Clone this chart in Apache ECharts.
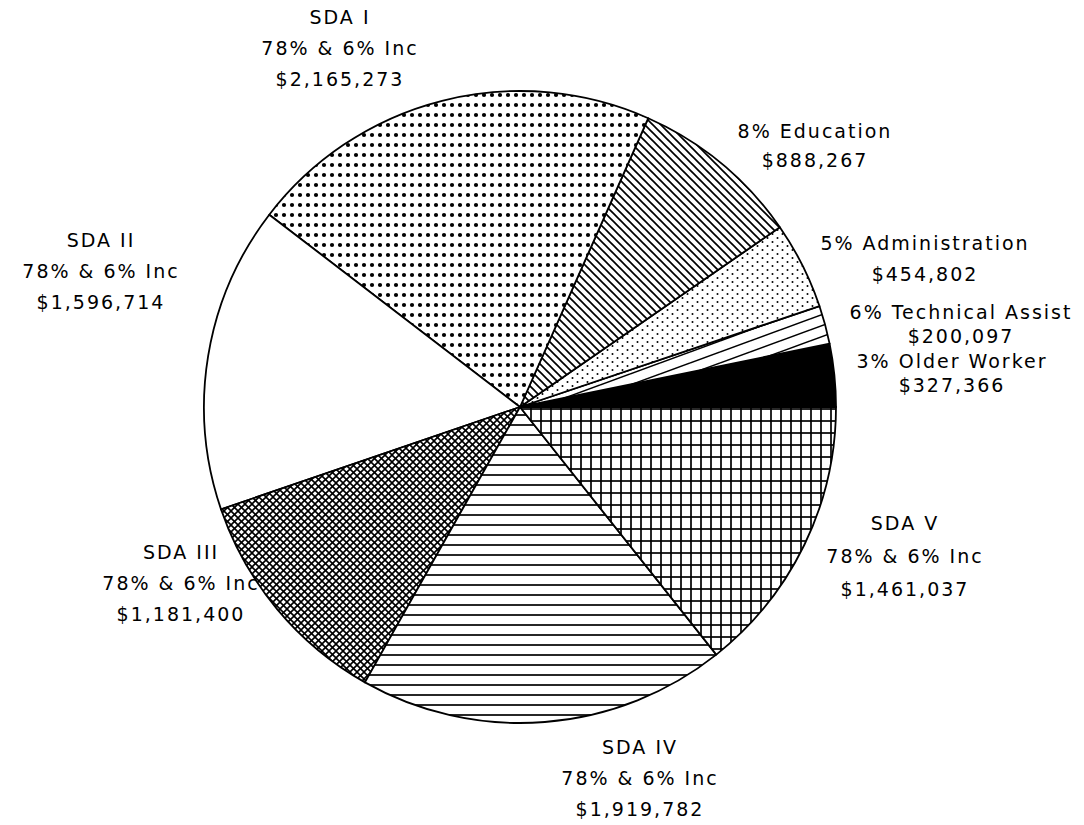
<!DOCTYPE html>
<html>
<head>
<meta charset="utf-8">
<script src="https://cdn.jsdelivr.net/npm/echarts@6/dist/echarts.min.js"></script>
<style>
html, body { margin: 0; padding: 0; background: #ffffff; }
#chart { width: 1084px; height: 825px; }
#chart text { letter-spacing: 2px; }
</style>
</head>
<body>
<div id="chart"></div>
<script>
// ---- data ----
const categories = ['3% Older Worker', '6% Technical Assist', '5% Administration', '8% Education',
                    'SDA I', 'SDA II', 'SDA III', 'SDA IV', 'SDA V'];
const subLabels = ['', '', '', '', '78% & 6% Inc', '78% & 6% Inc', '78% & 6% Inc', '78% & 6% Inc', '78% & 6% Inc'];
const amounts = [327366, 200097, 454802, 888267, 2165273, 1596714, 1181400, 1919782, 1461037];

// ---- label placement (style, not data) ----
const labelPos = [[952, 373], [961, 324], [925, 258], [815, 145], [340, 48], [101, 271], [181, 583], [640, 778], [905, 556]];
const labelLineHeights = [24, 24, 31, 29, 31, 31, 31, 31, 33];

// ---- fill patterns ----
function tile(w, h, draw) {
  const c = document.createElement('canvas');
  c.width = w; c.height = h;
  const ctx = c.getContext('2d');
  ctx.fillStyle = '#fff'; ctx.fillRect(0, 0, w, h);
  ctx.strokeStyle = '#000'; ctx.fillStyle = '#000';
  draw(ctx, w, h);
  return { image: c, repeat: 'repeat' };
}
function line(ctx, x1, y1, x2, y2, lw) {
  ctx.lineWidth = lw; ctx.beginPath(); ctx.moveTo(x1, y1); ctx.lineTo(x2, y2); ctx.stroke();
}
const patterns = [
  '#000000', // Older Worker: solid
  tile(30, 11, (ctx) => { // Technical Assist: shallow "/" lines
    for (const s of [-11, 0, 11]) line(ctx, 0, 11 + s, 30, 0 + s, 1.5);
  }),
  tile(10, 8, (ctx) => { // Administration: small staggered dots
    ctx.beginPath(); ctx.arc(2.5, 2, 1.0, 0, Math.PI * 2); ctx.fill();
    ctx.beginPath(); ctx.arc(7.5, 6, 1.0, 0, Math.PI * 2); ctx.fill();
  }),
  tile(8, 8, (ctx) => { // Education: "\" lines
    for (const s of [-8, 0, 8]) line(ctx, s - 1, -1, s + 9, 9, 1.7);
  }),
  tile(8, 10, (ctx) => { // SDA I: large dots
    ctx.beginPath(); ctx.arc(4, 5, 2.1, 0, Math.PI * 2); ctx.fill();
  }),
  '#ffffff', // SDA II: plain
  tile(7, 7, (ctx) => { // SDA III: diagonal cross-hatch
    for (const s of [-7, 0, 7]) {
      line(ctx, s - 1, -1, s + 8, 8, 1.6);
      line(ctx, s - 1, 8, s + 8, -1, 1.6);
    }
  }),
  tile(10, 10, (ctx) => { // SDA IV: horizontal lines
    line(ctx, 0, 5, 10, 5, 1.7);
  }),
  tile(10, 12, (ctx) => { // SDA V: square grid
    line(ctx, 1, 0, 1, 12, 1.7);
    line(ctx, 0, 1, 10, 1, 1.7);
  })
];

const fmt = (v) => '$' + v.toLocaleString('en-US');

const seriesData = categories.map((name, i) => ({
  name: name,
  value: amounts[i],
  itemStyle: { color: patterns[i] },
  label: { lineHeight: labelLineHeights[i] }
}));

const chart = echarts.init(document.getElementById('chart'), null, { renderer: 'svg' });
chart.setOption({
  backgroundColor: '#ffffff',
  animation: false,
  series: [{
    type: 'pie',
    center: [520, 407],
    radius: 316,
    startAngle: 0,
    clockwise: false,
    avoidLabelOverlap: false,
    silent: true,
    itemStyle: { borderColor: '#000', borderWidth: 1.8 },
    emphasis: { disabled: true },
    label: {
      show: true,
      position: 'outside',
      color: '#000',
      fontFamily: 'DejaVu Sans',
      fontSize: 19,
      formatter: (p) => {
        const i = p.dataIndex;
        return (subLabels[i] ? [categories[i], subLabels[i], fmt(amounts[i])] : [categories[i], fmt(amounts[i])]).join('\n');
      }
    },
    labelLine: { show: false },
    labelLayout: (params) => {
      const p = labelPos[params.dataIndex];
      return { x: p[0], y: p[1], align: 'center', verticalAlign: 'middle' };
    },
    data: seriesData
  }]
});
</script>
</body>
</html>
